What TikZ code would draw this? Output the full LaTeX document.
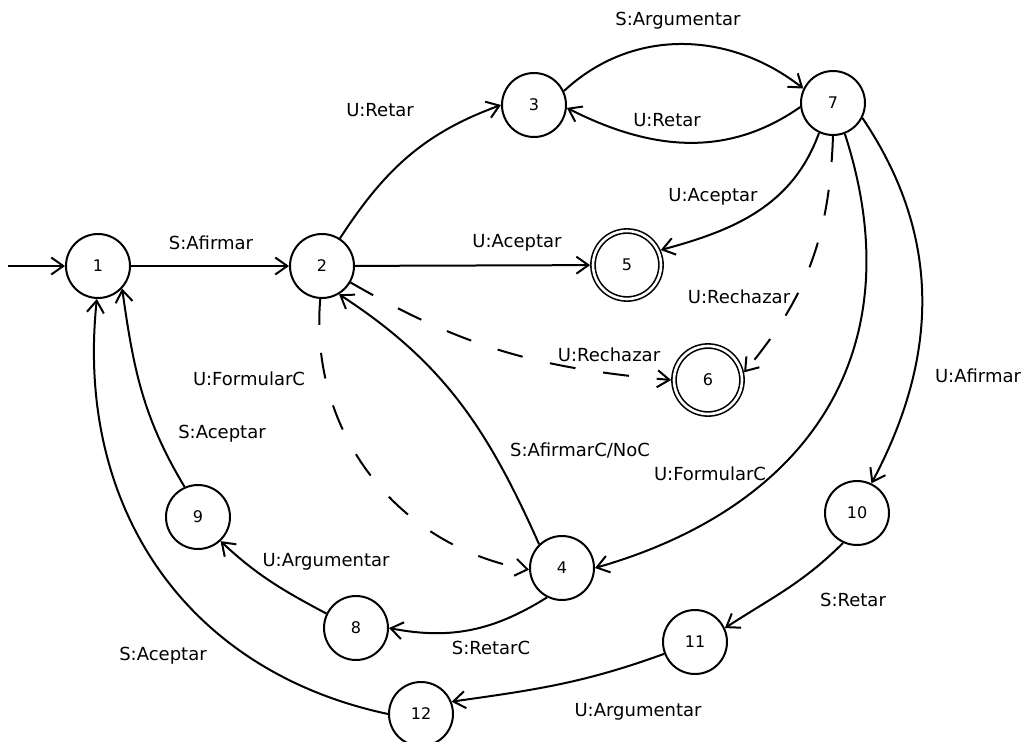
\documentclass[tikz,border=0pt]{standalone}
\usepackage{fontspec}
\setmainfont{DejaVu Sans}
\usetikzlibrary{arrows.meta}
\tikzset{
  state/.style={circle, draw, line width=2pt, minimum size=64pt, inner sep=0pt, font=\fontsize{16}{19}\selectfont},
  accept/.style={circle, draw, line width=1.6pt, double, double distance=2.6pt, minimum size=68pt, inner sep=0pt, outer sep=2.9pt, font=\fontsize{16}{19}\selectfont},
  edge/.style={line width=2pt, -{Straight Barb[length=12pt,width=17pt]}, line join=round},
  dashededge/.style={edge, dash pattern=on 26pt off 28pt},
  lbl/.style={font=\fontsize{18}{21}\selectfont, inner sep=0pt}
}
\begin{document}
\begin{tikzpicture}[x=1pt,y=1pt]
\useasboundingbox (0,0) rectangle (1026,-742);
% states
\node[state] (n1) at (98,-266) {1};
\node[state] (n2) at (322,-266) {2};
\node[state] (n3) at (534,-105) {3};
\node[state] (n7) at (833,-103) {7};
\node[accept] (n5) at (627,-265) {5};
\node[accept] (n6) at (708,-380) {6};
\node[state] (n9) at (198,-517) {9};
\node[state] (n4) at (562,-568) {4};
\node[state] (n8) at (356,-628) {8};
\node[state] (n10) at (857,-513) {10};
\node[state] (n11) at (695,-642) {11};
\node[state] (n12) at (421,-714) {12};
\coordinate (start) at (8,-266);
% labels
\node[lbl] (l12) at (211,-243) {S:Afirmar};
\node[lbl] (l23) at (380,-110) {U:Retar};
\node[lbl] (l37) at (678,-21) {S:Argumentar};
\node[lbl] (l73) at (667,-120) {U:Retar};
\node[lbl] (l25) at (517,-243) {U:Aceptar};
\node[lbl] (l75) at (713,-197) {U:Aceptar};
\node[lbl] (l76) at (739,-297) {U:Rechazar};
\node[lbl] (l26) at (609,-355) {U:Rechazar};
\node[lbl] (l24) at (249,-379) {U:FormularC};
\node[lbl] (l91) at (222,-434) {S:Aceptar};
\node[lbl] (l42) at (580,-450) {S:AfirmarC/NoC};
\node[lbl] (l74) at (710,-474) {U:FormularC};
\node[lbl] (l710) at (978,-376) {U:Afirmar};
\node[lbl] (l1011) at (853,-600) {S:Retar};
\node[lbl] (l1112) at (638,-712) {U:Argumentar};
\node[lbl] (l48) at (491,-648) {S:RetarC};
\node[lbl] (l89) at (326,-562) {U:Argumentar};
\node[lbl] (l121) at (163,-656) {S:Aceptar};
% edges
\draw[edge] (start) -- (n1);
\draw[edge] (n1) -- (n2);
\draw[edge] (n2) -- (n5);
\draw[edge] (n2.57) to[out=57,in=200] (n3.180);
\draw[edge] (n3.25) to[out=43,in=142] (n7.154);
\draw[edge] (n7.187) to[out=215,in=-27] (n3.-5);
\draw[edge] (n7.-115) to[out=-110,in=15] (n5.24);
\draw[dashededge] (n7.-90) to[out=-92,in=50] (n6.12);
\draw[dashededge] (n2.-30) to[out=-30,in=175] (n6.180);
\draw[dashededge] (n2.-93) to[out=-95,in=170] (n4.183);
\draw[edge] (n4.134) to[out=114,in=-33] (n2.-59);
\draw[edge] (n7.-69) to[out=-72,in=16,looseness=1.15] (n4.0);
\draw[edge] (n7.-27) to[out=-56,in=62] (n10.64);
\draw[edge] (n10.-115) to[out=-135,in=33] (n11.25);
\draw[edge] (n11.201) to[out=200,in=8] (n12.22);
\draw[edge] (n4.-117) to[out=212,in=-11] (n8.0);
\draw[edge] (n8.154) to[out=152,in=-43] (n9.-47);
\draw[edge] (n9.114) to[out=121,in=-82] (n1.-43);
\draw[edge] (n12.180) to[out=168,in=-96,looseness=1.05] (n1.-92);
\end{tikzpicture}
\end{document}
